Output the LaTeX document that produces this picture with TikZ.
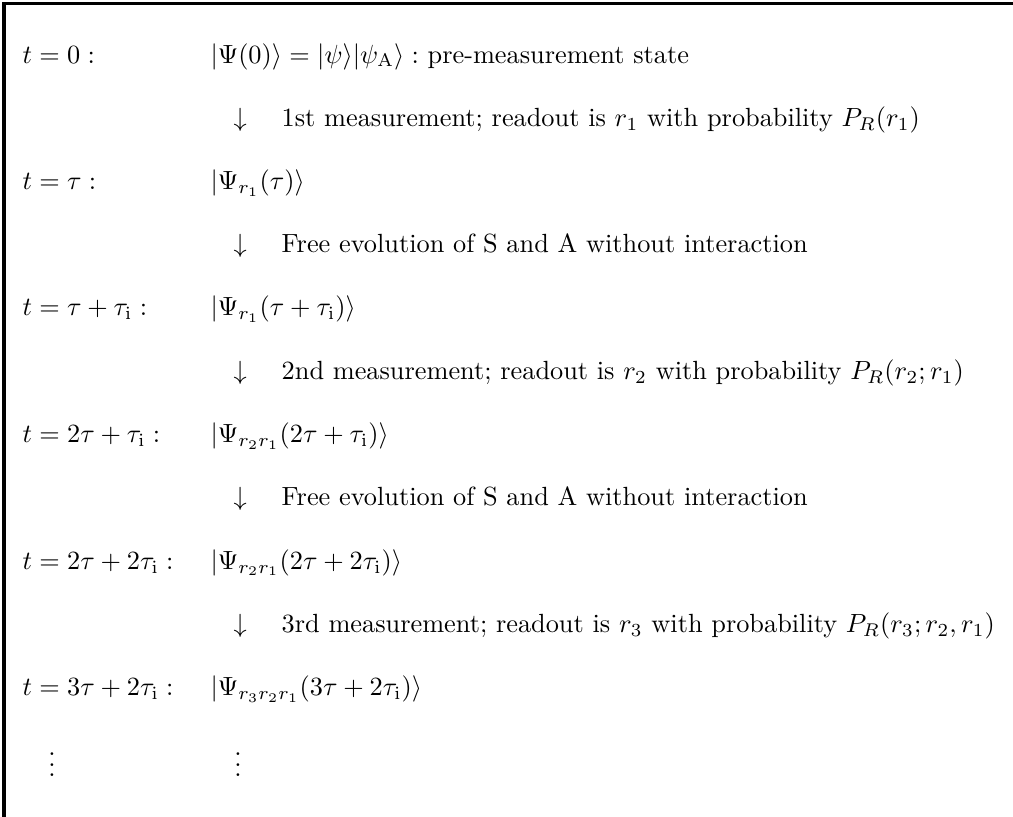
\documentclass[tikz,border=0pt]{standalone}
\usepackage{amsmath}
\usepackage{tikz}

\begin{document}
\begin{tikzpicture}[
  timelbl/.style={anchor=base west, inner sep=0pt},
  statelbl/.style={anchor=base west, inner sep=0pt},
  steplbl/.style={anchor=base west, inner sep=0pt},
  dotslbl/.style={anchor=base, inner sep=0pt},
  frame/.style={line width=1.2pt},
]

\useasboundingbox (0,0) rectangle (13.535,-10.916);
\draw[frame] (0.053,-10.916) -- (0.053,-0.045) -- (13.535,-0.045);

\node[timelbl] (t0) at (0.294,-0.842) {$t=0:$};
\node[statelbl] (s0) at (2.806,-0.842) {$|\Psi(0)\rangle = |\psi\rangle|\psi_{\mathrm{A}}\rangle :$ pre-measurement state};

\node[steplbl] (m1) at (3.113,-1.687) {$\downarrow\quad$ 1st measurement; readout is $r_1$ with probability $P_R(r_1)$};

\node[timelbl] (t1) at (0.294,-2.533) {$t=\tau:$};
\node[statelbl] (s1) at (2.806,-2.533) {$|\Psi_{r_1}(\tau)\rangle$};

\node[steplbl] (f1) at (3.113,-3.380) {$\downarrow\quad$ Free evolution of S and A without interaction};

\node[timelbl] (t2) at (0.294,-4.222) {$t=\tau+\tau_{\mathrm{i}}:$};
\node[statelbl] (s2) at (2.806,-4.222) {$|\Psi_{r_1}(\tau+\tau_{\mathrm{i}})\rangle$};

\node[steplbl] (m2) at (3.113,-5.070) {$\downarrow\quad$ 2nd measurement; readout is $r_2$ with probability $P_R(r_2;r_1)$};

\node[timelbl] (t3) at (0.294,-5.918) {$t=2\tau+\tau_{\mathrm{i}}:$};
\node[statelbl] (s3) at (2.806,-5.918) {$|\Psi_{r_2r_1}(2\tau+\tau_{\mathrm{i}})\rangle$};

\node[steplbl] (f2) at (3.113,-6.760) {$\downarrow\quad$ Free evolution of S and A without interaction};

\node[timelbl] (t4) at (0.294,-7.607) {$t=2\tau+2\tau_{\mathrm{i}}:$};
\node[statelbl] (s4) at (2.806,-7.607) {$|\Psi_{r_2r_1}(2\tau+2\tau_{\mathrm{i}})\rangle$};

\node[steplbl] (m3) at (3.113,-8.453) {$\downarrow\quad$ 3rd measurement; readout is $r_3$ with probability $P_R(r_3;r_2,r_1)$};

\node[timelbl] (t5) at (0.294,-9.299) {$t=3\tau+2\tau_{\mathrm{i}}:$};
\node[statelbl] (s5) at (2.806,-9.299) {$|\Psi_{r_3r_2r_1}(3\tau+2\tau_{\mathrm{i}})\rangle$};

\node[dotslbl] (d1) at (0.695,-10.381) {$\vdots$};
\node[dotslbl] (d2) at (3.180,-10.381) {$\vdots$};

\end{tikzpicture}
\end{document}
